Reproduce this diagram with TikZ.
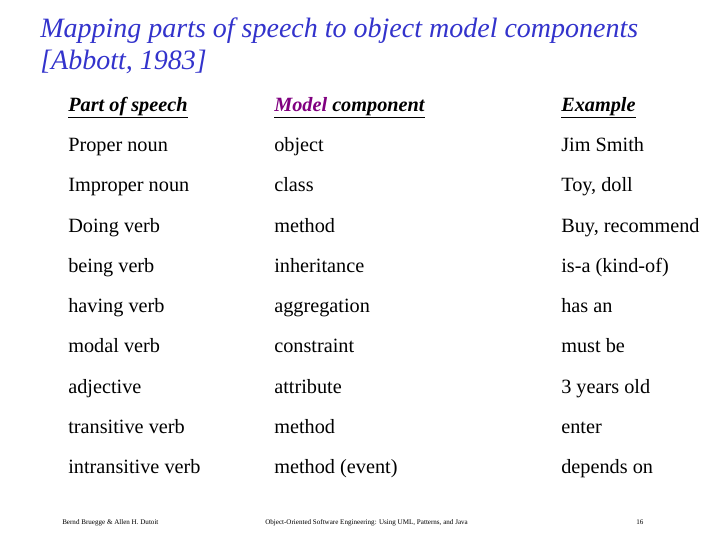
\documentclass[tikz,border=0pt]{standalone}
\usepackage{fontspec}
\setmainfont{Liberation Serif}
\definecolor{titleblue}{HTML}{3333CC}
\definecolor{mpurple}{HTML}{800080}
\begin{document}
\begin{tikzpicture}[x=0.75pt,y=-0.75pt,
  cell/.style={anchor=base west,inner sep=0pt,font=\fontsize{15.2}{17}\selectfont},
  hdr/.style={cell,font=\fontsize{15.2}{17}\selectfont\bfseries\itshape},
  foot/.style={anchor=base west,inner sep=0pt,font=\fontsize{5.3}{6}\selectfont}]
\useasboundingbox[fill=white] (0,0) rectangle (720,540);
\node[anchor=west,inner sep=0pt,align=left,text=titleblue,font=\fontsize{21}{24}\selectfont\itshape] (title) at (40,46) {Mapping parts of speech to object model components\\{}[Abbott, 1983]};
\node[hdr] (h1) at (68,111) {\underline{Part of speech}};
\node[hdr] (h2) at (274,111) {\underline{\textcolor{mpurple}{Model} component}};
\node[hdr] (h3) at (561,111) {\underline{Example}};
\foreach \y/\a/\b/\c [count=\i] in {
 151/Proper noun/object/Jim Smith,
 191/Improper noun/class/{Toy, doll},
 232/Doing verb/method/{Buy, recommend},
 272/being verb/inheritance/is-a (kind-of),
 312/having verb/aggregation/has an,
 352/modal verb/constraint/must be,
 393/adjective/attribute/3 years old,
 433/transitive verb/method/enter,
 473/intransitive verb/method (event)/depends on}{
 \node[cell] (a\i) at (68,\y) {\a};
 \node[cell] (b\i) at (274,\y) {\b};
 \node[cell] (c\i) at (561,\y) {\c};
}
\node[foot] (f1) at (62,524) {Bernd Bruegge \& Allen H. Dutoit};
\node[foot] (f2) at (265,524) {Object-Oriented Software Engineering: Using UML, Patterns, and Java};
\node[foot] (f3) at (636,524) {16};
\end{tikzpicture}
\end{document}
